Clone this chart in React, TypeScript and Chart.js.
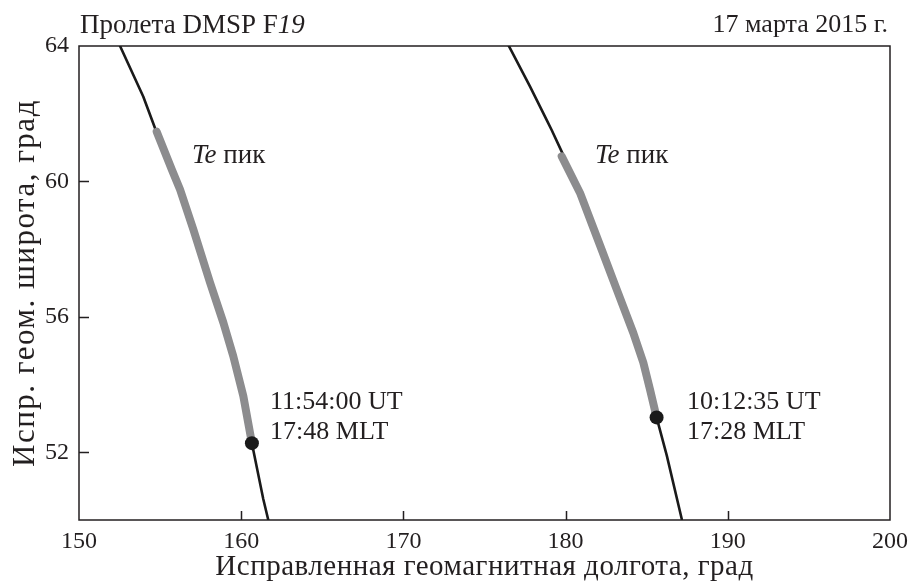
import React, { useEffect, useRef } from "react";
import { Chart, registerables } from "chart.js";

Chart.register(...registerables);

// ---- data ----
const xTicks = [150, 160, 170, 180, 190, 200];
const yTicks = [52, 56, 60, 64];

// Pass 1 (11:54:00 UT) full track
const pass1Lon = [152.53, 153.96, 154.69, 155.72, 156.23, 157.05, 158.08, 158.9, 159.51, 160.13, 160.66, 161.36, 161.67];
const pass1Lat = [64.0, 62.51, 61.57, 60.35, 59.76, 58.58, 57.01, 55.83, 54.84, 53.66, 52.27, 50.62, 50.0];
// Pass 1 Te peak segment
const peak1Lon = [154.79, 155.72, 156.23, 157.05, 158.08, 158.9, 159.51, 160.13, 160.66];
const peak1Lat = [61.47, 60.35, 59.76, 58.58, 57.01, 55.83, 54.84, 53.66, 52.27];
const marker1 = { lon: 160.66, lat: 52.27 };

// Pass 2 (10:12:35 UT) full track
const pass2Lon = [176.47, 177.81, 178.83, 179.14, 179.76, 180.89, 181.75, 182.22, 183.15, 184.17, 184.79, 185.2, 185.61, 186.24, 187.16];
const pass2Lat = [64.03, 62.8, 61.82, 61.52, 60.88, 59.66, 58.58, 57.99, 56.81, 55.53, 54.65, 53.86, 53.03, 51.9, 50.03];
// Pass 2 Te peak segment
const peak2Lon = [179.76, 180.89, 181.75, 182.22, 183.15, 184.17, 184.79, 185.2, 185.61];
const peak2Lat = [60.74, 59.66, 58.58, 57.99, 56.81, 55.53, 54.65, 53.86, 53.03];
const marker2 = { lon: 185.61, lat: 53.03 };

const titleLeft = "Пролета DMSP F";
const titleLeftItalic = "19";
const titleRight = "17 марта 2015 г.";
const xTitle = "Исправленная геомагнитная долгота, град";
const yTitle = "Испр. геом. широта, град";
const teItalic = "Te";
const teText = " пик";
const label1 = ["11:54:00 UT", "17:48 MLT"];
const label2 = ["10:12:35 UT", "17:28 MLT"];
const teAnchors = [
  { lon: 156.97, lat: 60.55 },
  { lon: 181.81, lat: 60.55 },
];
const timeAnchors = [
  { lon: 161.78, lat: 53.29, lines: label1 },
  { lon: 187.48, lat: 53.29, lines: label2 },
];

const FONT = "'Liberation Serif', 'Times New Roman', serif";
const INK = "#231f20";

const zip = (xs: number[], ys: number[]) => xs.map((x, i) => ({ x, y: ys[i] }));

const setSpacing = (ctx: any, v: string) => {
  try { ctx.letterSpacing = v; } catch (e) { /* ignore */ }
};

const decor = {
  id: "decor",
  beforeDatasetsDraw(chart: any) {
    const { ctx, chartArea, scales } = chart;
    const { left, right, top, bottom } = chartArea;
    const xs = scales.x;
    const ys = scales.y;
    ctx.save();
    ctx.strokeStyle = INK;
    ctx.lineWidth = 1.5;
    ctx.strokeRect(left, top, right - left, bottom - top);
    ctx.beginPath();
    xTicks.forEach((v) => {
      if (v === xs.min || v === xs.max) return;
      const px = Math.round(xs.getPixelForValue(v)) + 0.5;
      ctx.moveTo(px, bottom);
      ctx.lineTo(px, bottom - 9);
    });
    yTicks.forEach((v) => {
      if (v === ys.max || v === ys.min) return;
      const py = Math.round(ys.getPixelForValue(v)) + 0.5;
      ctx.moveTo(left, py);
      ctx.lineTo(left + 10, py);
    });
    ctx.stroke();
    ctx.restore();
  },
  afterDraw(chart: any) {
    const { ctx, chartArea, scales } = chart;
    const { left, right, bottom } = chartArea;
    const xs = scales.x;
    const ys = scales.y;
    ctx.save();
    ctx.fillStyle = INK;
    ctx.textBaseline = "alphabetic";
    // top-left title
    ctx.textAlign = "left";
    ctx.font = `27px ${FONT}`;
    ctx.fillText(titleLeft, left + 1, 33);
    const w = ctx.measureText(titleLeft).width;
    ctx.font = `italic 27px ${FONT}`;
    ctx.fillText(titleLeftItalic, left + 1 + w, 33);
    // top-right date
    ctx.textAlign = "right";
    ctx.font = `26px ${FONT}`;
    ctx.fillText(titleRight, right - 2, 32);

    // Te peak labels
    ctx.textAlign = "left";
    teAnchors.forEach((a) => {
      const px = xs.getPixelForValue(a.lon);
      const py = ys.getPixelForValue(a.lat);
      ctx.font = `italic 27px ${FONT}`;
      ctx.fillText(teItalic, px, py);
      const tw = ctx.measureText(teItalic).width;
      ctx.font = `27px ${FONT}`;
      ctx.fillText(teText, px + tw, py);
    });
    // time labels
    ctx.font = `26px ${FONT}`;
    timeAnchors.forEach((a) => {
      const px = xs.getPixelForValue(a.lon);
      const py = ys.getPixelForValue(a.lat);
      a.lines.forEach((t, i) => ctx.fillText(t, px, py + i * 30.5));
    });

    // axis titles
    ctx.textAlign = "center";
    ctx.font = `29px ${FONT}`;
    setSpacing(ctx, "0.5px");
    ctx.fillText(xTitle, (left + right) / 2, bottom + 55);
    ctx.translate(34, (chartArea.top + bottom) / 2 + 0);
    ctx.rotate(-Math.PI / 2);
    ctx.font = `31px ${FONT}`;
    setSpacing(ctx, "1.5px");
    ctx.fillText(yTitle, 0, 0);
    setSpacing(ctx, "0px");
    ctx.restore();
  },
};

export default function App() {
  const ref = useRef<HTMLCanvasElement | null>(null);
  useEffect(() => {
    if (!ref.current) return;
    const black = { borderColor: "#1a1a1a", borderWidth: 2.6, pointRadius: 0, fill: false, tension: 0, borderCapStyle: "round", borderJoinStyle: "round" };
    const gray = { borderColor: "#8c8c8e", borderWidth: 8, pointRadius: 0, fill: false, tension: 0, borderCapStyle: "round", borderJoinStyle: "round" };
    const dot = { showLine: false, pointRadius: 7, pointBackgroundColor: "#1a1a1a", pointBorderColor: "#1a1a1a", pointBorderWidth: 0 };
    const chart = new Chart(ref.current, {
      type: "line",
      data: {
        // earlier datasets are painted on top
        datasets: [
          { label: "m1", data: [{ x: marker1.lon, y: marker1.lat }], ...dot },
          { label: "m2", data: [{ x: marker2.lon, y: marker2.lat }], ...dot },
          { label: "peak1", data: zip(peak1Lon, peak1Lat), ...gray },
          { label: "peak2", data: zip(peak2Lon, peak2Lat), ...gray },
          { label: "pass1", data: zip(pass1Lon, pass1Lat), ...black },
          { label: "pass2", data: zip(pass2Lon, pass2Lat), ...black },
        ] as any,
      },
      options: {
        animation: false,
        responsive: true,
        maintainAspectRatio: false,
        layout: { padding: { top: 46, right: 20, left: 0, bottom: 0 } },
        plugins: { legend: { display: false }, tooltip: { enabled: false }, title: { display: false } },
        scales: {
          x: {
            type: "linear",
            min: 150,
            max: 200,
            grid: { display: false, drawTicks: false },
            border: { display: false },
            afterBuildTicks: (s: any) => { s.ticks = xTicks.map((v) => ({ value: v })); },
            afterFit: (s: any) => { s.height = 64; s.paddingLeft = 0; s.paddingRight = 0; },
            ticks: { padding: 7, color: INK, font: { family: FONT, size: 24 }, maxRotation: 0, autoSkip: false },
            title: { display: false },
          },
          y: {
            type: "linear",
            min: 50,
            max: 64,
            grid: { display: false, drawTicks: false },
            border: { display: false },
            afterBuildTicks: (s: any) => { s.ticks = yTicks.map((v) => ({ value: v })); },
            afterFit: (s: any) => { s.width = 79; s.paddingTop = 0; s.paddingBottom = 0; },
            ticks: { padding: 10, color: INK, font: { family: FONT, size: 24 }, autoSkip: false },
            title: { display: false },
          },
        },
      },
      plugins: [decor],
    });
    return () => chart.destroy();
  }, []);
  return (
    <div style={{ position: "fixed", left: 0, top: 0, width: 910, height: 584, background: "#fff" }}>
      <canvas ref={ref} />
    </div>
  );
}
